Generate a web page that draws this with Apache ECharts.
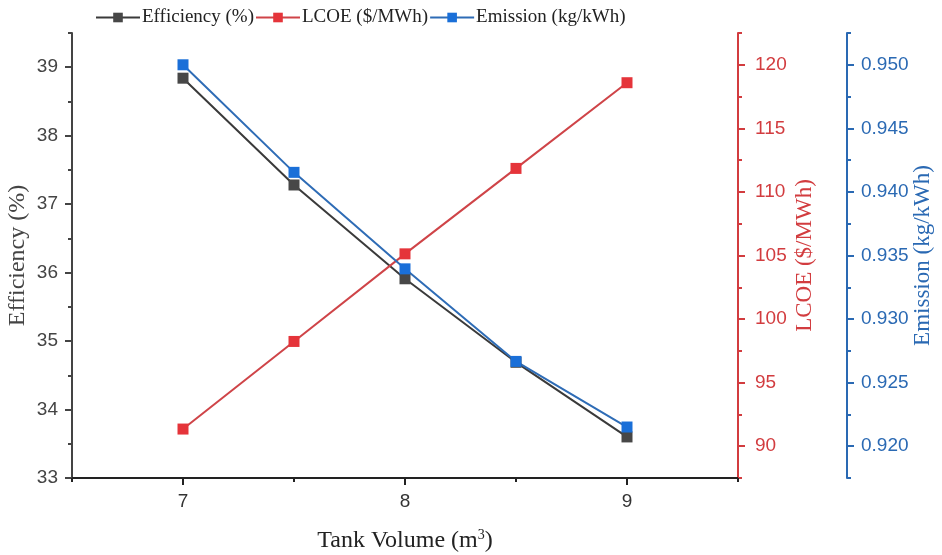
<!DOCTYPE html>
<html><head><meta charset="utf-8">
<script src="https://cdn.jsdelivr.net/npm/echarts@6/dist/echarts.min.js"></script>
<style>html,body{margin:0;padding:0;background:#fff}#c{width:942px;height:555px}</style>
</head><body><div id="c"></div>
<script>
var tankVolume = [7, 7.5, 8, 8.5, 9];
var efficiency = [38.84, 37.28, 35.91, 34.69, 33.60];
var lcoe = [91.35, 98.24, 105.13, 111.85, 118.59];
var emission = [0.9500, 0.94154, 0.93395, 0.92667, 0.92151];
var xMajor = [7, 8, 9];
var xMinor = [6.5, 7.5, 8.5, 9.5];
var effMajor = [33, 34, 35, 36, 37, 38, 39];
var effMinor = [33.5, 34.5, 35.5, 36.5, 37.5, 38.5, 39.5];
var lcoeMajor = [90, 95, 100, 105, 110, 115, 120];
var lcoeMinor = [87.5, 92.5, 97.5, 102.5, 107.5, 112.5, 117.5, 122.5];
var emMajor = [0.920, 0.925, 0.930, 0.935, 0.940, 0.945, 0.950];
var emMinor = [0.9175, 0.9225, 0.9275, 0.9325, 0.9375, 0.9425, 0.9475, 0.9525];

var serif = '"Liberation Serif","Times New Roman",serif';
var sans = '"Liberation Sans",Arial,sans-serif';
var cBlack = '#3a3a3a', cRed = '#d23c3f', cBlue = '#2a69b3';

function pairs(ys){ return tankVolume.map(function(x,i){return [x, ys[i]];}); }

function yMain(min, max, major, color, name, gap, offset, fmt, nameSize, margin){
  return {
    type:'value', min:min, max:max, position: offset===undefined?'left':'right', offset: offset||0,
    name:name, nameLocation:'middle', nameGap:gap, nameRotate:90, nameMoveOverlap:false,
    nameTextStyle:{fontFamily:serif, fontSize:nameSize, color:color},
    axisLine:{show:true, lineStyle:{color:color, width:2}},
    axisTick:{show:true, customValues:major, length:7, inside:false, lineStyle:{color:color, width:2}},
    axisLabel:{customValues:major, color:color, fontFamily:sans, fontSize:19, margin:margin, formatter:fmt},
    splitLine:{show:false}
  };
}
function yMinor(min, max, minor, color, offset){
  return {
    type:'value', min:min, max:max, position: offset===undefined?'left':'right', offset: offset||0,
    axisLine:{show:false},
    axisTick:{show:true, customValues:minor, length:4, lineStyle:{color:color, width:2}},
    axisLabel:{show:false}, splitLine:{show:false}
  };
}

var chart = echarts.init(document.getElementById('c'), null, {renderer:'canvas'});
chart.setOption({
  animation:false,
  backgroundColor:'#fff',
  grid:{left:72, right:204, top:33, bottom:77, containLabel:false, outerBoundsMode:'none'},
  legend:{
    top:3, left:90, itemWidth:44, itemHeight:12, itemGap:1,
    textStyle:{fontFamily:serif, fontSize:19, color:'#222', padding:[0,0,0,-3]},
    data:['Efficiency (%)','LCOE ($/MWh)','Emission (kg/kWh)']
  },
  xAxis:[{
    type:'value', min:6.5, max:9.5,
    name:'{a|Tank Volume (m}{s|3}{a|)}', nameLocation:'middle', nameGap:50, nameMoveOverlap:false,
    nameTextStyle:{rich:{a:{fontFamily:serif, fontSize:24, color:'#222'}, s:{fontFamily:serif, fontSize:14, color:'#222', verticalAlign:'top', padding:[0,0,12,0]}}},
    axisLine:{show:true, onZero:false, lineStyle:{color:'#222', width:2}},
    axisTick:{show:true, customValues:xMajor, length:7, lineStyle:{color:'#222', width:2}},
    axisLabel:{customValues:xMajor, color:'#333', fontFamily:sans, fontSize:19, margin:14},
    splitLine:{show:false}
  },{
    type:'value', min:6.5, max:9.5, position:'bottom',
    axisLine:{show:false},
    axisTick:{show:true, customValues:xMinor, length:4, lineStyle:{color:'#222', width:2}},
    axisLabel:{show:false}, splitLine:{show:false}
  }],
  yAxis:[
    yMain(33, 39.5, effMajor, '#444', 'Efficiency (%)', 42, undefined, function(v){return String(v);}, 24, 14),
    yMain(87.5, 122.5, lcoeMajor, cRed, 'LCOE ($/MWh)', 55, 0, function(v){return String(v);}, 23, 17),
    yMain(0.9175, 0.9525, emMajor, cBlue, 'Emission (kg/kWh)', 64, 109, function(v){return v.toFixed(3);}, 23, 14),
    yMinor(33, 39.5, effMinor, '#444'),
    yMinor(87.5, 122.5, lcoeMinor, cRed, 0),
    yMinor(0.9175, 0.9525, emMinor, cBlue, 109)
  ],
  series:[
    {name:'Efficiency (%)', type:'line', xAxisIndex:0, yAxisIndex:0, data:pairs(efficiency),
     symbol:'rect', symbolSize:11, lineStyle:{color:cBlack, width:2}, itemStyle:{color:'#474747'}},
    {name:'LCOE ($/MWh)', type:'line', xAxisIndex:0, yAxisIndex:1, data:pairs(lcoe),
     symbol:'rect', symbolSize:11, lineStyle:{color:'#cf4448', width:2}, itemStyle:{color:'#e5343a'}},
    {name:'Emission (kg/kWh)', type:'line', xAxisIndex:0, yAxisIndex:2, data:pairs(emission),
     symbol:'rect', symbolSize:11, lineStyle:{color:'#2e6cb6', width:2}, itemStyle:{color:'#1a6fd8'}}
  ]
});
</script></body></html>
